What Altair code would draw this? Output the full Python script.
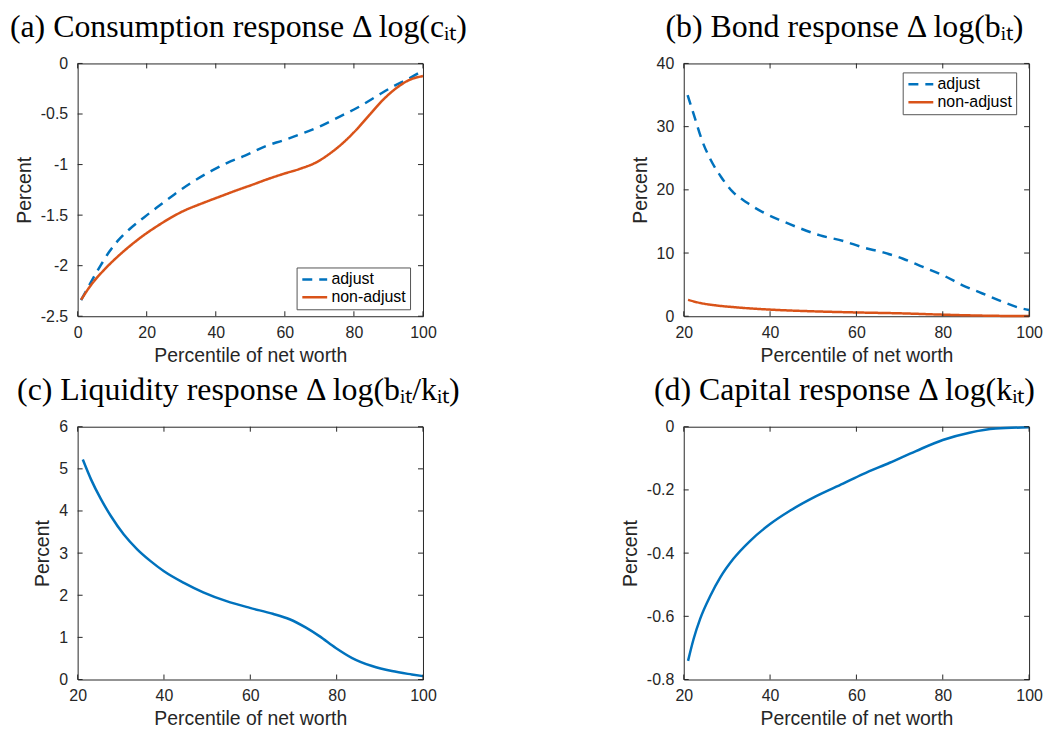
import altair as alt
import pandas as pd

BLUE = "#0072BD"
ORANGE = "#D95319"
AX = "#262626"
SANS = "Liberation Sans"
SERIF = "Liberation Serif"

SERIES = ["adjust", "non-adjust"]

# (a) Consumption response
a_adj_x = [1, 3.9, 6.8, 9.2, 11.6, 15, 19.3, 23.7, 28, 32.9, 38.6, 43.5, 48.3, 54.7, 59.5,
           65.3, 70.1, 75.9, 80.7, 86.4, 91.2, 96, 99]
a_adj_y = [-2.34, -2.16, -1.99, -1.86, -1.755, -1.64, -1.52, -1.405, -1.295, -1.18, -1.065, -0.98,
           -0.915, -0.814, -0.761, -0.689, -0.623, -0.525, -0.443, -0.328, -0.23, -0.148, -0.09]
a_non_x = [1, 3.9, 7.7, 11.6, 15.5, 19.3, 23.2, 27, 30.9, 34.8, 38.6, 42.5, 46.4, 50, 54.7,
           59.5, 64.3, 69.1, 73, 76.8, 80.7, 84.5, 88.4, 92.2, 96, 100]
a_non_y = [-2.337, -2.19, -2.04, -1.91, -1.795, -1.695, -1.605, -1.525, -1.455, -1.40, -1.35,
           -1.30, -1.25, -1.207, -1.148, -1.093, -1.043, -0.978, -0.892, -0.787, -0.656, -0.509,
           -0.361, -0.246, -0.164, -0.125]

# (b) Bond response
b_adj_x = [20.9, 22.7, 24.2, 26.2, 28.5, 31.2, 34.6, 38.5, 42.7, 47, 51.6, 57, 61.5, 66.2,
           70.8, 75.4, 80, 84.6, 89.2, 93.8, 98.5, 100]
b_adj_y = [35.0, 31.1, 27.9, 24.8, 22.2, 19.8, 18.0, 16.4, 15.1, 13.9, 12.8, 11.9, 10.9, 10.1,
           9.1, 7.8, 6.5, 4.9, 3.6, 2.3, 1.2, 1.0]
b_non_x = [21, 23.8, 27.7, 32.3, 40, 49, 60, 70.8, 80, 90.8, 100]
b_non_y = [2.6, 2.1, 1.7, 1.4, 1.05, 0.8, 0.6, 0.45, 0.25, 0.08, 0.02]

# (c) Liquidity response
c_x = [21.2, 23.1, 25.4, 27.7, 30.7, 33.8, 36.9, 40, 44.5, 49.1, 54.5, 59.9, 65.2, 69.1,
       72.9, 76, 79.8, 83.6, 88.2, 92.8, 97.4, 100]
c_y = [5.22, 4.75, 4.28, 3.88, 3.44, 3.09, 2.81, 2.57, 2.30, 2.07, 1.86, 1.70, 1.56, 1.43,
       1.23, 1.03, 0.75, 0.51, 0.32, 0.20, 0.12, 0.08]

# (d) Capital response
d_x = [21, 22.3, 23.8, 26.2, 28.5, 31.5, 35.4, 40, 44.6, 50.8, 56.9, 61.5, 67.7, 73.8, 80,
       86.2, 92.3, 100]
d_y = [-0.741, -0.671, -0.608, -0.534, -0.476, -0.418, -0.361, -0.308, -0.266, -0.219,
       -0.180, -0.150, -0.114, -0.077, -0.042, -0.019, -0.006, -0.002]

titles = [
    "(a) Consumption response \u0394 log(c\u1d62\u209c)",
    "(b) Bond response \u0394 log(b\u1d62\u209c)",
    "(c) Liquidity response \u0394 log(b\u1d62\u209c/k\u1d62\u209c)",
    "(d) Capital response \u0394 log(k\u1d62\u209c)",
]

W, H = 347, 254
TICK = 5


def two_series(x1, y1, x2, y2):
    return pd.concat([
        pd.DataFrame({"x": x1, "y": y1, "series": SERIES[0]}),
        pd.DataFrame({"x": x2, "y": y2, "series": SERIES[1]}),
    ], ignore_index=True)


def panel(df, xdom, ydom, xvals, yvals, title, legend_xy=None):
    xscale = alt.Scale(domain=xdom, nice=False, zero=False)
    yscale = alt.Scale(domain=ydom, nice=False, zero=False)
    xaxis = alt.Axis(values=xvals, title="Percentile of net worth", grid=False, ticks=False,
                     domain=False, labelFont=SANS, labelFontSize=16, labelColor=AX,
                     titleFont=SANS, titleFontSize=19.5, titleFontWeight="normal",
                     titleColor=AX, labelPadding=8, titlePadding=6, labelFlush=False,
                     labelOverlap=False, labelExpr="toString(datum.value)")
    yaxis = alt.Axis(values=yvals, title="Percent", grid=False, ticks=False,
                     domain=False, labelFont=SANS, labelFontSize=16, labelColor=AX,
                     titleFont=SANS, titleFontSize=19.5, titleFontWeight="normal",
                     titleColor=AX, labelPadding=10, titlePadding=6, labelFlush=False,
                     labelOverlap=False, labelExpr="toString(datum.value)")
    X = lambda: alt.X("x:Q", scale=xscale, axis=xaxis)
    Y = lambda: alt.Y("y:Q", scale=yscale, axis=yaxis)

    if legend_xy is not None:
        leg = alt.Legend(title=None, orient="none", legendX=legend_xy[0], legendY=legend_xy[1],
                         direction="vertical", strokeColor="#555555", fillColor="white",
                         padding=4, labelFont=SANS, labelFontSize=16, labelColor="black",
                         symbolType="M-1,0H3", symbolSize=156, symbolStrokeWidth=2.5,
                         labelOffset=15, rowPadding=2, labelLimit=200)
        lines = alt.Chart(df).mark_line(strokeWidth=2.5, interpolate="monotone").encode(
            x=X(), y=Y(),
            color=alt.Color("series:N", scale=alt.Scale(domain=SERIES, range=[BLUE, ORANGE]),
                            legend=leg),
            strokeDash=alt.StrokeDash("series:N",
                                      scale=alt.Scale(domain=SERIES, range=[[10, 7], [1, 0]]),
                                      legend=leg),
            detail="series:N",
        )
    else:
        lines = alt.Chart(df).mark_line(strokeWidth=2.5, interpolate="monotone",
                                        color=BLUE).encode(x=X(), y=Y())

    xt = pd.DataFrame({"x": xvals})
    yt = pd.DataFrame({"y": yvals})
    tb = alt.Chart(xt).mark_rule(color=AX, strokeWidth=1).encode(
        x=X(), y=alt.value(H), y2=alt.value(H - TICK))
    tt = alt.Chart(xt).mark_rule(color=AX, strokeWidth=1).encode(
        x=X(), y=alt.value(0), y2=alt.value(TICK))
    tl = alt.Chart(yt).mark_rule(color=AX, strokeWidth=1).encode(
        y=Y(), x=alt.value(0), x2=alt.value(TICK))
    tr = alt.Chart(yt).mark_rule(color=AX, strokeWidth=1).encode(
        y=Y(), x=alt.value(W), x2=alt.value(W - TICK))

    return alt.layer(lines, tb, tt, tl, tr).properties(
        width=W, height=H,
        title=alt.TitleParams(title, font=SERIF, fontSize=32, fontWeight="normal",
                              color="black", anchor="middle", dx=-12, offset=12),
    )


pa = panel(two_series(a_adj_x, a_adj_y, a_non_x, a_non_y), [0, 100], [-2.5, 0],
           [0, 20, 40, 60, 80, 100], [-2.5, -2, -1.5, -1, -0.5, 0], titles[0], (220, 205))
pb = panel(two_series(b_adj_x, b_adj_y, b_non_x, b_non_y), [20, 100], [0, 40],
           [20, 40, 60, 80, 100], [0, 10, 20, 30, 40], titles[1], (220, 9))
pc = panel(pd.DataFrame({"x": c_x, "y": c_y}), [20, 100], [0, 6],
           [20, 40, 60, 80, 100], [0, 1, 2, 3, 4, 5, 6], titles[2])
pd_ = panel(pd.DataFrame({"x": d_x, "y": d_y}), [20, 100], [-0.8, 0],
            [20, 40, 60, 80, 100], [-0.8, -0.6, -0.4, -0.2, 0], titles[3])

chart = alt.concat(pa, pb, pc, pd_, columns=2, spacing={"row": 111, "column": 262},
                   bounds="flush").resolve_scale(
    color="independent", strokeDash="independent"
).configure(
    background="white",
    padding={"left": 7, "top": 8, "right": 5, "bottom": 5},
    view=alt.ViewConfig(stroke=AX, strokeWidth=1),
)

chart.save("out.html", embed_options={"renderer": "svg", "actions": False})
